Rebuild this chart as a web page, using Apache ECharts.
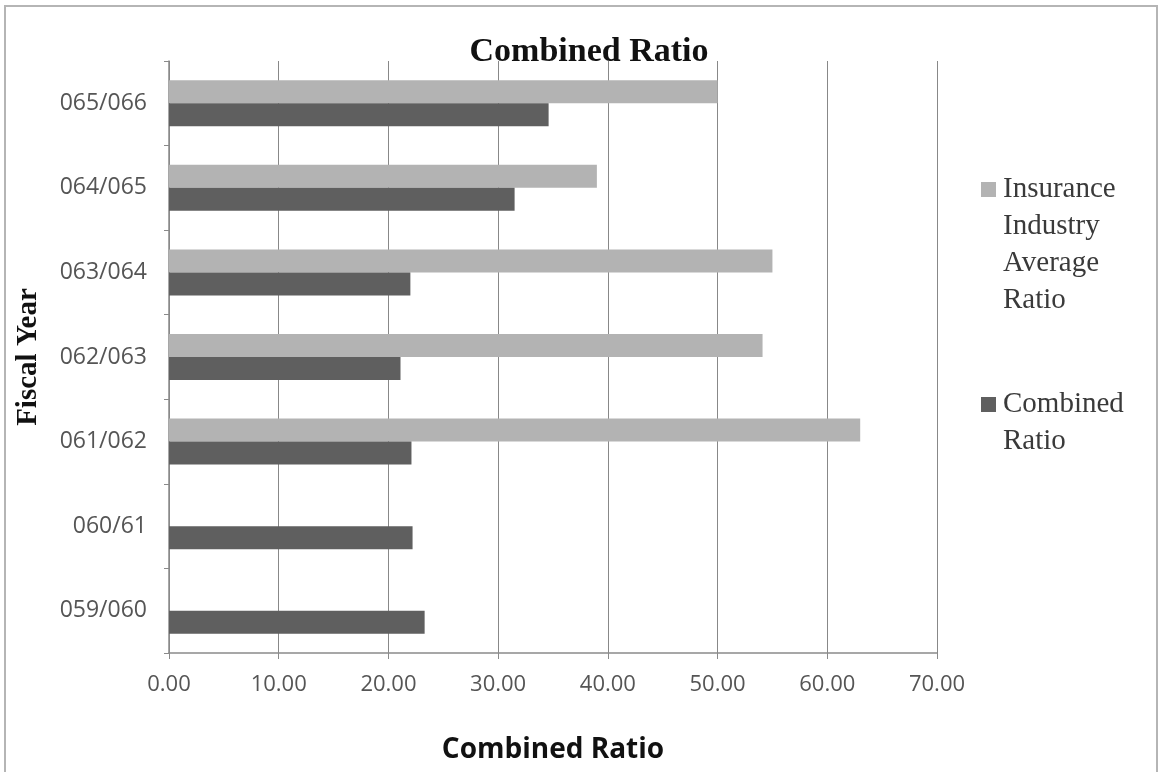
<!DOCTYPE html>
<html>
<head>
<meta charset="utf-8">
<script src="https://cdn.jsdelivr.net/npm/echarts@6/dist/echarts.min.js"></script>
<style>html,body{margin:0;padding:0;background:#fff}#c{width:1162px;height:772px}</style>
</head>
<body>
<div id="c"></div>
<script>
const categories = ['065/066', '064/065', '063/064', '062/063', '061/062', '060/61', '059/060'];
const industryAvg = [50.0, 39.0, 55.0, 54.1, 63.0, null, null];
const combinedRatio = [34.6, 31.5, 22.0, 21.1, 22.1, 22.2, 23.3];
const xTicks = [0, 10, 20, 30, 40, 50, 60, 70];
const seriesNames = ['Insurance Industry Average Ratio', 'Combined Ratio'];
const legendLines = {
  'Insurance Industry Average Ratio': ['Insurance', 'Industry', 'Average', 'Ratio'],
  'Combined Ratio': ['Combined', 'Ratio']
};
const colors = ['#b3b3b3', '#5f5f5f'];

const chart = echarts.init(document.getElementById('c'), null, {renderer: 'canvas'});

function legendFmt(name) {
  const lines = legendLines[name];
  const sq = name === seriesNames[0] ? 'sqA' : 'sqB';
  return lines.map((l, i) => (i === 0 ? '{' + sq + '|}{g|}' : '{sp|}') + '{t|' + l + '}').join('\n');
}
const legendRich = {
  sqA: {width: 15, height: 15, backgroundColor: colors[0], verticalAlign: 'middle'},
  sqB: {width: 15, height: 15, backgroundColor: colors[1], verticalAlign: 'middle'},
  g: {width: 7},
  sp: {width: 22},
  t: {fontFamily: 'Liberation Serif', fontSize: 29, lineHeight: 37, color: '#3a3a3a'}
};

chart.setOption({
  animation: false,
  backgroundColor: '#ffffff',
  title: {
    text: 'Combined Ratio',
    left: 584, top: 30, textAlign: 'center',
    textStyle: {fontFamily: 'Liberation Serif', fontWeight: 'bold', fontSize: 34, color: '#111'}
  },
  legend: [
    {data: [seriesNames[0]], left: 971, top: 170, orient: 'vertical', itemWidth: 0, itemHeight: 0,
     formatter: legendFmt, textStyle: {rich: legendRich}, selectedMode: false},
    {data: [seriesNames[1]], left: 971, top: 385, orient: 'vertical', itemWidth: 0, itemHeight: 0,
     formatter: legendFmt, textStyle: {rich: legendRich}, selectedMode: false}
  ],
  grid: {left: 169, right: 225, top: 61, bottom: 119, containLabel: false, outerBoundsMode: 'none'},
  xAxis: {
    type: 'value', min: xTicks[0], max: xTicks[xTicks.length - 1], interval: 10,
    name: 'Combined Ratio', nameLocation: 'middle', nameGap: 83,
    nameTextStyle: {fontFamily: 'Open Sans', fontWeight: 'bold', fontSize: 28, color: '#111'},
    axisLine: {show: true, lineStyle: {color: '#8a8a8a', width: 1.5}},
    axisTick: {show: true, length: 6, lineStyle: {color: '#8a8a8a'}},
    axisLabel: {margin: 21, fontFamily: 'Open Sans', fontSize: 22, color: '#555',
      formatter: v => v.toFixed(2)},
    splitLine: {show: true, lineStyle: {color: '#888888', width: 1}}
  },
  yAxis: {
    type: 'category', data: categories, inverse: true,
    name: 'Fiscal Year', nameLocation: 'middle', nameGap: 126, nameRotate: 90,
    nameTextStyle: {fontFamily: 'Liberation Serif', fontWeight: 'bold', fontSize: 29, color: '#111'},
    axisLine: {show: true, lineStyle: {color: '#8a8a8a', width: 1.5}},
    axisTick: {show: true, length: 5, lineStyle: {color: '#8a8a8a'}},
    axisLabel: {margin: 22, fontFamily: 'Open Sans', fontSize: 23, color: '#555'}
  },
  series: [
    {name: seriesNames[0], type: 'bar', data: industryAvg, barWidth: 23, barGap: '0%',
     itemStyle: {color: colors[0]}},
    {name: seriesNames[1], type: 'bar', data: combinedRatio, barWidth: 23, barGap: '0%',
     itemStyle: {color: colors[1]}}
  ],
  graphic: [
    {type: 'rect', shape: {x: 5, y: 6, width: 1152, height: 772}, silent: true,
     style: {fill: 'none', stroke: '#b5b5b5', lineWidth: 2}}
  ]
});
</script>
</body>
</html>
